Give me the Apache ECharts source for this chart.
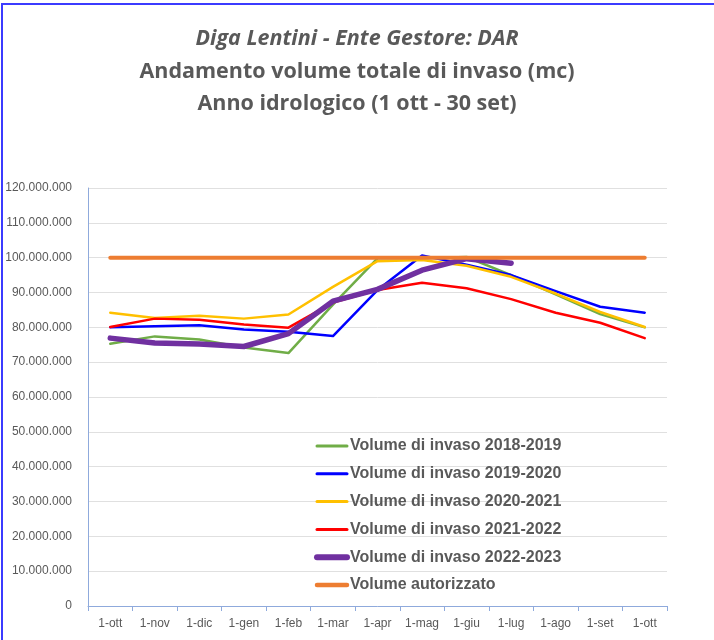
<!DOCTYPE html>
<html>
<head>
<meta charset="utf-8">
<script src="https://cdn.jsdelivr.net/npm/echarts@6/dist/echarts.min.js"></script>
<style>
  html, body { margin: 0; padding: 0; background: #fff; }
  #wrap { position: relative; width: 714px; height: 640px; overflow: hidden; }
  #chart { position: absolute; left: 0; top: 0; width: 714px; height: 640px; }
  .bordoTop { position: absolute; left: 1px; top: 3px; width: 713px; height: 2px; background: #3b3bff; }
  .bordoSx { position: absolute; left: 1px; top: 3px; width: 2px; height: 637px; background: #3b3bff; }
</style>
</head>
<body>
<div id="wrap">
  <div id="chart"></div>
  <div class="bordoTop"></div>
  <div class="bordoSx"></div>
</div>
<script>
// mesi dell'anno idrologico
var mesi = ["1-ott", "1-nov", "1-dic", "1-gen", "1-feb", "1-mar", "1-apr", "1-mag", "1-giu", "1-lug", "1-ago", "1-set", "1-ott"];

// volumi in milioni di mc
var vol2018 = [75.3, 77.4, 76.5, 74.2, 72.6, 86.5, 99.8, 99.8, 100.2, 95.0, 89.5, 83.8, 80.0];
var vol2019 = [80.0, 80.3, 80.6, 79.4, 78.7, 77.5, 90.7, 100.6, 98.0, 95.0, 90.4, 85.9, 84.2];
var vol2020 = [84.2, 82.7, 83.3, 82.5, 83.7, 91.6, 99.0, 99.3, 97.7, 94.5, 89.7, 84.4, 80.1];
var vol2021 = [80.1, 82.5, 82.2, 80.8, 79.9, 87.1, 90.7, 92.8, 91.2, 88.1, 84.2, 81.3, 76.9];
var vol2022 = [76.9, 75.5, 75.2, 74.5, 78.2, 87.5, 90.9, 96.4, 99.7, 98.4, null, null, null];
var volAutorizzato = [100, 100, 100, 100, 100, 100, 100, 100, 100, 100, 100, 100, 100];

var nomi = [
  "Volume di invaso 2018-2019",
  "Volume di invaso 2019-2020",
  "Volume di invaso 2020-2021",
  "Volume di invaso 2021-2022",
  "Volume di invaso 2022-2023",
  "Volume autorizzato"
];
var colori = ["#70ad47", "#0000ff", "#ffc000", "#ff0000", "#7030a0", "#ed7d31"];
var spessori = [2.5, 2.5, 2.5, 2.5, 5.5, 4];

function toMc(arr) {
  return arr.map(function (v) { return v == null ? null : v * 1000000; });
}

function fmt(v) {
  return String(v).replace(/\B(?=(\d{3})+(?!\d))/g, ".");
}

function serie(i, dati) {
  return {
    name: nomi[i],
    type: "line",
    data: toMc(dati),
    symbol: "none",
    smooth: false,
    lineStyle: { color: colori[i], width: spessori[i], cap: "round", join: "round" },
    itemStyle: { color: colori[i] }
  };
}

var myChart = echarts.init(document.getElementById("chart"));
var option = {
  animation: false,
  backgroundColor: "#fff",
  textStyle: { fontFamily: "Liberation Sans, Arial, sans-serif" },
  title: {
    left: "center",
    top: 18,
    text: "{a|Diga Lentini - Ente Gestore: DAR}\n{b|Andamento volume totale di invaso (mc)}\n{b|Anno idrologico (1 ott - 30 set)}",
    textStyle: {
      rich: {
        a: { fontFamily: "Open Sans", fontStyle: "italic", fontWeight: "bold", fontSize: 21.5, color: "#595959", lineHeight: 32.5 },
        b: { fontFamily: "Open Sans", fontWeight: "bold", fontSize: 21.5, color: "#595959", lineHeight: 32.5 }
      }
    }
  },
  legend: {
    orient: "vertical",
    left: 309,
    top: 433,
    itemWidth: 30,
    itemHeight: 14,
    itemGap: 11.8,
    data: nomi.map(function (n, i) {
      return { name: n, lineStyle: { width: spessori[i] + 0.5, cap: "round" } };
    }),
    itemStyle: { opacity: 0 },
    textStyle: { fontFamily: "Liberation Sans", fontWeight: "bold", fontSize: 16, color: "#595959", padding: [0, 0, 0, -2] }
  },
  grid: { left: 88, right: 47, top: 188, bottom: 34 },
  xAxis: {
    type: "category",
    data: mesi,
    boundaryGap: true,
    axisLine: { lineStyle: { color: "#8faadc", width: 1 } },
    axisTick: { show: true, length: 5, lineStyle: { color: "#8faadc" } },
    axisLabel: { color: "#595959", fontSize: 12, margin: 12, interval: 0 },
    splitLine: { show: false }
  },
  yAxis: {
    type: "value",
    min: 0,
    max: 120000000,
    interval: 10000000,
    axisLine: { show: true, lineStyle: { color: "#8faadc", width: 1 } },
    axisTick: { show: false },
    axisLabel: { color: "#595959", fontSize: 12, margin: 16, formatter: fmt },
    splitLine: { lineStyle: { color: "#e0e0e0", width: 1 } }
  },
  series: [
    serie(0, vol2018),
    serie(1, vol2019),
    serie(2, vol2020),
    serie(3, vol2021),
    serie(4, vol2022),
    serie(5, volAutorizzato)
  ]
};
myChart.setOption(option);
</script>
</body>
</html>
